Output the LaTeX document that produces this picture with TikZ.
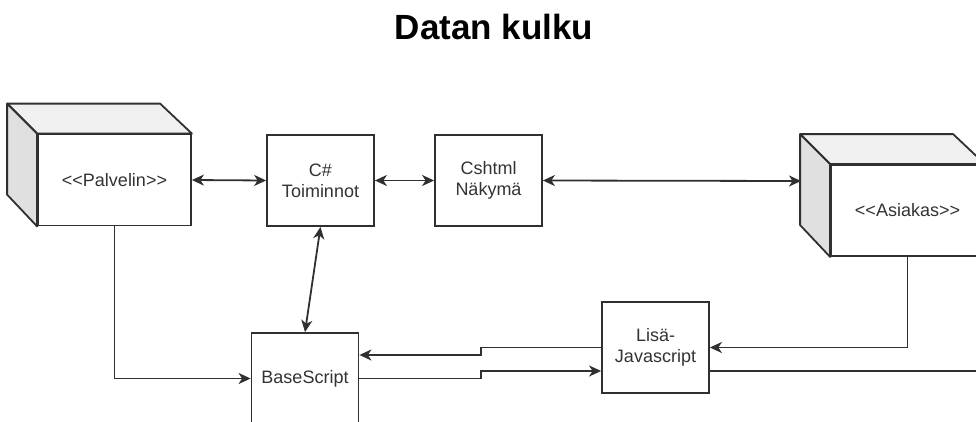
\documentclass[tikz,border=0pt]{standalone}
\usepackage{fontspec}
\setmainfont{Liberation Sans}
\usetikzlibrary{arrows.meta}
\definecolor{linegray}{HTML}{303030}
\definecolor{txtgray}{HTML}{333333}
\definecolor{topgray}{HTML}{F0F0F0}
\definecolor{sidegray}{HTML}{E0E0E0}
\begin{document}
\begin{tikzpicture}[x=1pt, y=-1pt, line width=1.8pt, >={Stealth[length=12pt,width=11pt,inset=3.5pt]},
  box/.style={draw=linegray, fill=white, minimum width=107pt, minimum height=91pt, inner sep=0pt, align=center, text=txtgray, font=\fontsize{18}{21}\selectfont},
  cubefront/.style={box, minimum width=153pt, minimum height=91pt},
  face/.style={draw=linegray, line join=round},
  wire/.style={draw=linegray}]
\useasboundingbox (0,0) rectangle (976,421);
\clip (0,0) rectangle (976,421);
\node[font=\fontsize{35}{40}\selectfont\bfseries, anchor=base] (title) at (494,39) {Datan kulku};
% cubes
\node[cubefront] (palv) at (114.5,180) {{<}{<}Palvelin{>}{>}};
\draw[face, fill=topgray] (palv.north west) -- ++(-30,-30) -- ++(153,0) -- (palv.north east) -- cycle;
\draw[face, fill=sidegray] (palv.north west) -- ++(-30,-30) -- ++(0,91) -- (palv.south west) -- cycle;
\node[cubefront] (asi) at (907.5,210.5) {{<}{<}Asiakas{>}{>}};
\draw[face, fill=topgray] (asi.north west) -- ++(-30,-30) -- ++(153,0) -- (asi.north east) -- cycle;
\draw[face, fill=sidegray] (asi.north west) -- ++(-30,-30) -- ++(0,91) -- (asi.south west) -- cycle;
\coordinate (asiback) at (801,181);
% boxes
\node[box] (cs) at (320.5,180.5) {C\#\\Toiminnot};
\node[box] (csh) at (488.5,180.5) {Cshtml\\Näkymä};
\node[box] (base) at (305,378.5) {BaseScript};
\node[box] (lisa) at (655.5,347.5) {Lisä-\\Javascript};
\coordinate (jog1) at (481,355);
\coordinate (jog2) at (481,371);
\coordinate (offright) at (990,371);
% arrows
\draw[wire, <->] (palv.east) -- (cs.west);
\draw[wire, <->] (cs.east) -- (csh.west);
\draw[wire, <->] (csh.east) -- (asiback);
\draw[wire, <->] (cs.south) -- (base.north);
\draw[wire, ->] (palv.south) |- (base.west);
\draw[wire, ->] (lisa.west) -| (jog1) -- (jog1 -| base.east);
\draw[wire, ->] (base.east) -| (jog2) -- (jog2 -| lisa.west);
\draw[wire, ->] (asi.south) |- (lisa.east);
\draw[wire] (jog2 -| lisa.east) -- (offright);
\end{tikzpicture}
\end{document}
